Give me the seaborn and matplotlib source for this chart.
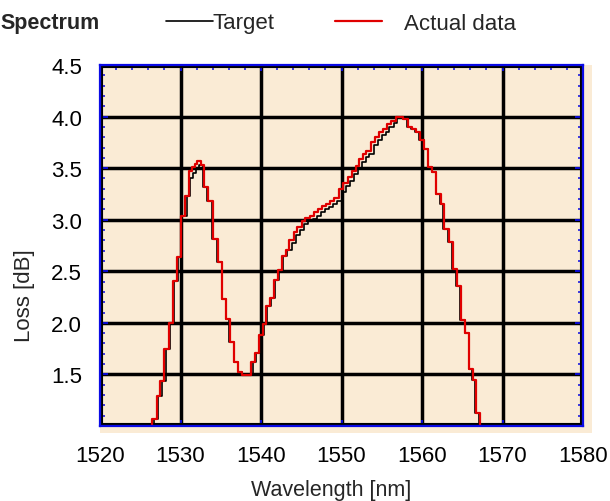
import numpy as np
import pandas as pd
import matplotlib
matplotlib.use("Agg")
import matplotlib.pyplot as plt
import seaborn as sns
from matplotlib.ticker import MultipleLocator
from matplotlib.lines import Line2D
from matplotlib.patches import Rectangle

# ---------------- data ----------------
wavelength_actual = [1525.5, 1526.5, 1527.1, 1527.5, 1528.0, 1528.6, 1529.1, 1529.6, 1530.0, 1530.6,
                     1531.0, 1531.4, 1531.8, 1532.1, 1532.5, 1532.9, 1533.4, 1534.0, 1534.6, 1535.2,
                     1535.7, 1536.1, 1536.7, 1537.2, 1537.7, 1538.8, 1539.2, 1539.7, 1540.2, 1540.6,
                     1541.1, 1541.6, 1542.1, 1542.6, 1543.1, 1543.5, 1544.1, 1544.5, 1545.1, 1545.5,
                     1546.1, 1546.6, 1547.1, 1547.6, 1548.1, 1548.6, 1549.1, 1549.7, 1550.2, 1550.8,
                     1551.3, 1551.8, 1552.2, 1552.7, 1553.1, 1553.7, 1554.2, 1554.7, 1555.2, 1555.6,
                     1556.2, 1556.8, 1557.7, 1558.2, 1558.7, 1559.2, 1559.7, 1560.3, 1560.8, 1561.3,
                     1561.8, 1562.3, 1562.7, 1563.3, 1563.8, 1564.3, 1564.8, 1565.4, 1565.9, 1566.3,
                     1566.7, 1567.2, 1568.0]
loss_actual = [0.80, 1.07, 1.29, 1.44, 1.75, 2.00, 2.41, 2.64, 3.04, 3.23,
               3.47, 3.51, 3.54, 3.57, 3.53, 3.32, 3.18, 2.81, 2.59, 2.23,
               2.04, 1.81, 1.62, 1.52, 1.49, 1.62, 1.71, 1.88, 1.99, 2.16,
               2.24, 2.42, 2.51, 2.65, 2.71, 2.80, 2.88, 2.93, 2.99, 3.02,
               3.04, 3.07, 3.10, 3.13, 3.15, 3.18, 3.21, 3.30, 3.36, 3.41,
               3.47, 3.52, 3.59, 3.64, 3.67, 3.75, 3.80, 3.85, 3.88, 3.93,
               3.96, 4.00, 3.98, 3.90, 3.88, 3.85, 3.77, 3.69, 3.51, 3.46,
               3.25, 3.15, 2.91, 2.78, 2.52, 2.36, 2.03, 1.90, 1.55, 1.45,
               1.13, 0.80, 0.80]

wavelength_target = [1525.65, 1526.65, 1527.25, 1527.65, 1528.15, 1528.75, 1529.25, 1529.75, 1530.15, 1530.75,
                     1531.15, 1531.55, 1531.95, 1532.25, 1532.4, 1532.8, 1533.3, 1533.9, 1534.5, 1535.1,
                     1535.6, 1536.0, 1536.6, 1537.1, 1537.6, 1538.95, 1539.35, 1539.85, 1540.35, 1540.75,
                     1541.25, 1541.75, 1542.25, 1542.75, 1543.25, 1543.8, 1544.4, 1544.8, 1545.4, 1545.8,
                     1546.4, 1546.9, 1547.4, 1547.9, 1548.4, 1548.9, 1549.4, 1550.0, 1550.5, 1551.1,
                     1551.6, 1552.1, 1552.5, 1553.0, 1553.4, 1554.0, 1554.5, 1555.0, 1555.5, 1555.9,
                     1556.5, 1556.9, 1557.6, 1558.1, 1558.6, 1559.1, 1559.6, 1560.2, 1560.7, 1561.2,
                     1561.7, 1562.2, 1562.6, 1563.2, 1563.7, 1564.2, 1564.7, 1565.3, 1565.8, 1566.2,
                     1566.6, 1567.1, 1568.0]
loss_target = [0.80, 1.07, 1.29, 1.44, 1.75, 2.00, 2.41, 2.64, 3.04, 3.23,
               3.40, 3.45, 3.50, 3.53, 3.53, 3.32, 3.18, 2.81, 2.59, 2.23,
               2.04, 1.81, 1.62, 1.52, 1.49, 1.62, 1.71, 1.88, 1.99, 2.16,
               2.24, 2.42, 2.51, 2.65, 2.71, 2.77, 2.85, 2.90, 2.96, 2.99,
               3.01, 3.04, 3.07, 3.10, 3.12, 3.15, 3.18, 3.27, 3.33, 3.38,
               3.44, 3.49, 3.56, 3.61, 3.64, 3.72, 3.77, 3.82, 3.85, 3.90,
               3.94, 4.00, 3.98, 3.90, 3.88, 3.85, 3.77, 3.69, 3.51, 3.46,
               3.25, 3.15, 2.91, 2.78, 2.52, 2.36, 2.03, 1.90, 1.55, 1.45,
               1.13, 0.80, 0.80]

x_ticks = [1520, 1530, 1540, 1550, 1560, 1570, 1580]
x_tick_labels = ["1520", "1530", "1540", "1550", "1560", "1570", "1580"]
y_ticks = [1.0, 1.5, 2.0, 2.5, 3.0, 3.5, 4.0, 4.5]
y_tick_labels = ["", "1.5", "2.0", "2.5", "3.0", "3.5", "4.0", "4.5"]
series_names = ["Target", "Actual data"]

# ---------------- style ----------------
sns.set_theme(style="white")
plt.rcParams['font.family'] = ['Liberation Sans', 'DejaVu Sans']

BEIGE = "#FAEBD5"
BLUE = "#0A0AE6"
RED = "#E00000"

W, H = 610, 502
fig = plt.figure(figsize=(W / 100, H / 100), dpi=100)
fig.patch.set_facecolor("white")

# beige backdrop slightly larger than the axes
fig.patches.append(Rectangle((100 / W, 1 - 434 / H), (592 - 100) / W, (434 - 66) / H,
                             transform=fig.transFigure, facecolor=BEIGE, edgecolor="none", zorder=0))

ax = fig.add_axes([100 / W, 1 - 427 / H, (583 - 100) / W, (427 - 66) / H])
ax.set_zorder(2)
ax.set_facecolor(BEIGE)

df_t = pd.DataFrame({"wl": wavelength_target, "loss": loss_target})
df_a = pd.DataFrame({"wl": wavelength_actual, "loss": loss_actual})

sns.lineplot(data=df_t, x="wl", y="loss", ax=ax, color="black", lw=1.2,
             drawstyle="steps-post", estimator=None, zorder=3)
sns.lineplot(data=df_a, x="wl", y="loss", ax=ax, color=RED, lw=1.6,
             drawstyle="steps-post", estimator=None, zorder=4)

ax.set_xlim(1520, 1580)
ax.set_ylim(1.0, 4.5)
ax.set_xticks(x_ticks)
ax.set_xticklabels(x_tick_labels)
ax.set_yticks(y_ticks)
ax.set_yticklabels(y_tick_labels)
ax.xaxis.set_minor_locator(MultipleLocator(2))
ax.yaxis.set_minor_locator(MultipleLocator(0.1))

ax.set_axisbelow(True)
ax.grid(True, which="major", color="black", lw=2.5)

# black inner frame
ax.add_patch(Rectangle((0, 0), 1, 1, transform=ax.transAxes, fill=False,
                       edgecolor="black", lw=4.4, zorder=1, clip_on=True))

for s in ax.spines.values():
    s.set_color(BLUE)
    s.set_linewidth(1.6)
    s.set_zorder(6)

ax.tick_params(axis="both", which="both", direction="in", color=BLUE, labelcolor="black")
ax.tick_params(axis="y", which="major", left=True, right=True, length=6, width=1.3,
               labelsize=16, pad=13)
ax.tick_params(axis="y", which="minor", left=True, right=True, length=3.5, width=1.1)
ax.tick_params(axis="x", which="major", bottom=True, top=True, length=4, width=1.3,
               labelsize=16, pad=14)
ax.tick_params(axis="x", which="minor", bottom=False, top=True, length=3.5, width=1.1)

ax.set_xlabel("Wavelength [nm]", fontsize=15.5)
ax.set_ylabel("Loss [dB]", fontsize=16)
ax.xaxis.set_label_coords(0.478, -0.147)
ax.yaxis.set_label_coords(-0.134, 0.363)

# title
fig.text(0.5 / W, 1 - 24 / H, "Spectrum", fontsize=15.5, fontweight="bold",
         ha="left", va="center")

# legends
h_t = Line2D([], [], color="black", lw=1.2)
h_a = Line2D([], [], color=RED, lw=1.6)
fig.legend([h_t], [series_names[0]], loc="center left",
           bbox_to_anchor=(166 / W, 1 - 24 / H), frameon=False, fontsize=16,
           handlelength=2.1, handletextpad=0.0, borderpad=0, borderaxespad=0)
fig.legend([h_a], [series_names[1]], loc="center left",
           bbox_to_anchor=(335 / W, 1 - 24 / H), frameon=False, fontsize=16,
           handlelength=2.1, handletextpad=1.0, borderpad=0, borderaxespad=0)

fig.savefig("out.png", dpi=100)
